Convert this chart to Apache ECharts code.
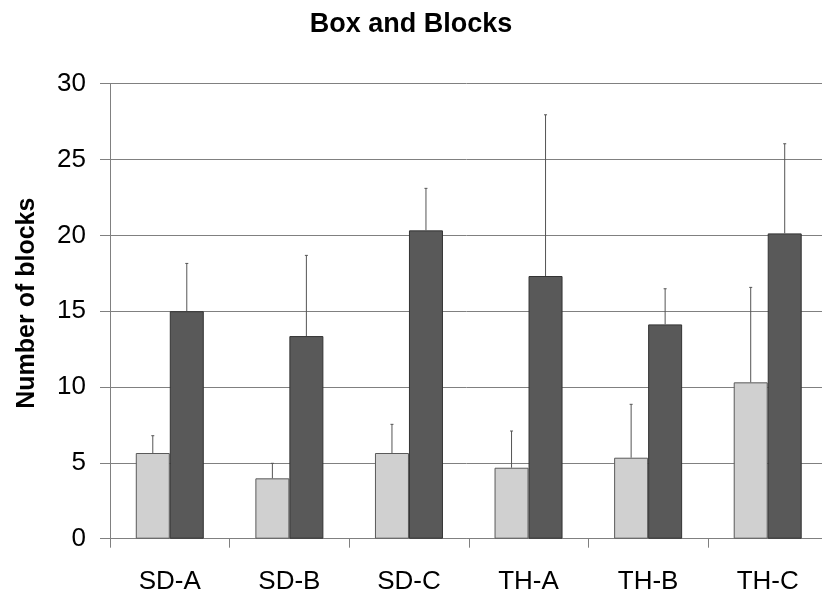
<!DOCTYPE html>
<html>
<head>
<meta charset="utf-8">
<script src="https://cdn.jsdelivr.net/npm/echarts@6/dist/echarts.min.js"></script>
<style>
    html, body { margin: 0; padding: 0; background: #fff; }
    #chart { width: 822px; height: 602px; }
</style>
</head>
<body>
<div id="chart"></div>
<script>
    // categories and values
    const categories = ['SD-A', 'SD-B', 'SD-C', 'TH-A', 'TH-B', 'TH-C']
    const lightMeans = [5.65, 3.98, 5.65, 4.68, 5.34, 10.31]
    const lightSD = [1.14, 0.99, 1.89, 2.42, 3.52, 6.26]
    const darkMeans = [15.0, 13.36, 20.33, 17.32, 14.13, 20.13]
    const darkSD = [3.15, 5.32, 2.77, 10.63, 2.35, 5.91]
    const yTicks = [0, 5, 10, 15, 20, 25, 30]

    const BAR_W = 34
    const font = 'Liberation Sans, Arial, sans-serif'

    // error bar: thin line up from the bar top, with a tiny cap
    const errorBar = (means, sds, side) => (params, api) => {
        const i = api.value(0)
        const top = api.coord([i, means[i] + sds[i]])
        const base = api.coord([i, means[i]])
        const x = base[0] + side * BAR_W / 2
        return {
            type: 'group',
            children: [
                {
                    type: 'line',
                    shape: { x1: x, y1: base[1], x2: x, y2: top[1] },
                    style: { stroke: '#555', lineWidth: 1 },
                },
                {
                    type: 'line',
                    shape: { x1: x - 1.5, y1: top[1], x2: x + 1.5, y2: top[1] },
                    style: { stroke: '#555', lineWidth: 1 },
                },
            ],
        }
    }

    const chart = echarts.init(document.getElementById('chart'))
    chart.setOption({
        animation: false,
        backgroundColor: '#fff',
        title: {
            text: 'Box and Blocks',
            left: 'center',
            top: 6,
            textStyle: { fontFamily: font, fontSize: 27, fontWeight: 'bold', color: '#000' },
        },
        grid: { left: 110, top: 83.7, width: 717.5, height: 455, outerBoundsMode: 'none', containLabel: false },
        xAxis: {
            type: 'category',
            data: categories,
            axisLine: { lineStyle: { color: '#808080', width: 1 } },
            axisTick: { show: true, length: 9, lineStyle: { color: '#808080' } },
            axisLabel: { fontFamily: font, fontSize: 26, color: '#000', margin: 30 },
        },
        yAxis: {
            type: 'value',
            min: yTicks[0],
            max: yTicks[yTicks.length - 1],
            interval: 5,
            name: 'Number of blocks',
            nameLocation: 'middle',
            nameGap: 70,
            nameTextStyle: {
                fontFamily: font, fontSize: 25, fontWeight: 'bold', color: '#000',
                padding: [0, 0, 0, 16],
            },
            axisLine: { show: true, lineStyle: { color: '#808080', width: 1 } },
            axisTick: { show: true, length: 10, lineStyle: { color: '#808080' } },
            axisLabel: { fontFamily: font, fontSize: 26, color: '#000', margin: 24 },
            splitLine: { lineStyle: { color: '#808080', width: 1 } },
        },
        series: [
            {
                type: 'bar',
                data: lightMeans,
                barWidth: BAR_W,
                barGap: '0%',
                itemStyle: { color: '#d0d0d0', borderColor: '#5a5a5a', borderWidth: 1 },
                z: 2,
            },
            {
                type: 'bar',
                data: darkMeans,
                barWidth: BAR_W,
                barGap: '0%',
                itemStyle: { color: '#595959', borderColor: '#333', borderWidth: 1 },
                z: 2,
            },
            {
                type: 'custom',
                renderItem: errorBar(lightMeans, lightSD, -1),
                data: categories.map((c, i) => [i]),
                z: 3,
            },
            {
                type: 'custom',
                renderItem: errorBar(darkMeans, darkSD, 1),
                data: categories.map((c, i) => [i]),
                z: 3,
            },
        ],
    })
</script>
</body>
</html>
